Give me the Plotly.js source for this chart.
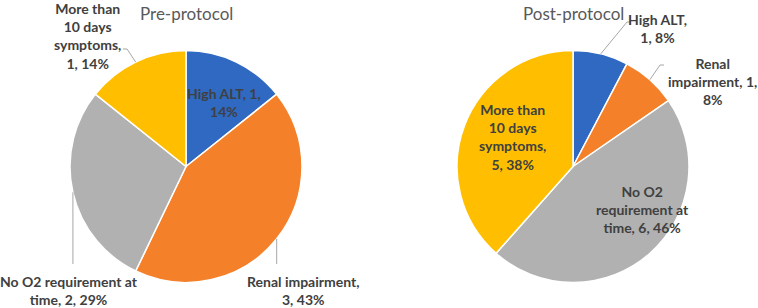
<!DOCTYPE html>
<html>
<head>
<meta charset="utf-8">
<script src="https://cdn.plot.ly/plotly-3.0.1.min.js"></script>
<style>html,body{margin:0;padding:0;background:#fff;}#chart{width:758px;height:308px;}</style>
</head>
<body>
<div id="chart"></div>
<script>
// ---- data ----
const categories = ["High ALT", "Renal impairment", "No O2 requirement at time", "More than 10 days symptoms"];
const preValues = [1, 3, 2, 1];
const postValues = [1, 1, 6, 5];
const chartTitles = ["Pre-protocol", "Post-protocol"];

// ---- style / layout ----
const W = 758, H = 308;
const colors = ["#2F69C1", "#F4812A", "#B1B1B1", "#FFBF00"];
const pieBoxes = [ {cx: 186, cy: 166.5, r: 116}, {cx: 573, cy: 166.5, r: 116} ];
const titlePos = [ [186, 13], [573, 13] ];
// per chart, per slice: label centre (px), wrap width (chars), leader path start points (px) or null
const labelStyle = [
  [
    {pos: [224, 103], wrap: 12, lead: null},
    {pos: [303, 290], wrap: 17, lead: "down", end: 264},
    {pos: [69, 290], wrap: 20, lead: "down", end: 264},
    {pos: [87, 36], wrap: 10, lead: [[123, 49], [127, 49]]}
  ],
  [
    {pos: [657, 28], wrap: 9, lead: [[631, 22], [627, 22]]},
    {pos: [712, 82], wrap: 14, lead: [[664, 65], [660, 65]]},
    {pos: [642, 209], wrap: 14, lead: null},
    {pos: [512, 137], wrap: 10, lead: null}
  ]
];

function wrap(text, n) {
  const words = text.split(" ");
  const lines = [];
  let cur = "";
  for (const w of words) {
    if (cur === "") cur = w;
    else if ((cur + " " + w).length <= n) cur += " " + w;
    else { lines.push(cur); cur = w; }
  }
  if (cur) lines.push(cur);
  return lines.join("<br>");
}

const px = x => x / W;
const py = y => 1 - y / H;

const allValues = [preValues, postValues];
const traces = [];
const annotations = [];
const shapes = [];

allValues.forEach((vals, k) => {
  const b = pieBoxes[k];
  traces.push({
    type: "pie",
    labels: categories,
    values: vals,
    sort: false,
    direction: "clockwise",
    rotation: 0,
    textinfo: "none",
    hoverinfo: "label+value+percent",
    marker: {colors: colors, line: {color: "#ffffff", width: 1.5}},
    domain: {x: [px(b.cx - b.r), px(b.cx + b.r)], y: [py(b.cy + b.r), py(b.cy - b.r)]},
    showlegend: false
  });
  annotations.push({
    text: chartTitles[k], xref: "paper", yref: "paper",
    x: px(titlePos[k][0]), y: py(titlePos[k][1]), xanchor: "center", yanchor: "middle",
    showarrow: false, font: {family: "Lato, 'Open Sans', sans-serif", size: 17, color: "#595959"}
  });
  const total = vals.reduce((a, c) => a + c, 0);
  let cum = 0;
  vals.forEach((v, i) => {
    const mid = (cum + v / 2) / total * 2 * Math.PI;
    cum += v;
    const tip = [b.cx + b.r * Math.sin(mid), b.cy - b.r * Math.cos(mid)];
    const st = labelStyle[k][i];
    const pct = Math.round(v / total * 100);
    const txt = wrap(categories[i] + ", " + v + ", " + pct + "%", st.wrap);
    annotations.push({
      text: "<b>" + txt + "</b>", xref: "paper", yref: "paper",
      x: px(st.pos[0]), y: py(st.pos[1]), xanchor: "center", yanchor: "middle", align: "center",
      showarrow: false, font: {family: "Lato, 'Open Sans', sans-serif", size: 14, color: "#404040"}
    });
    if (st.lead) {
      let pts;
      if (st.lead === "down") pts = [tip, [tip[0], st.end]];
      else pts = st.lead.concat([tip]);
      const path = pts.map((p, j) => (j ? "L" : "M") + px(p[0]).toFixed(5) + "," + py(p[1]).toFixed(5)).join(" ");
      shapes.push({type: "path", xref: "paper", yref: "paper", path: path,
        line: {color: "#A6A6A6", width: 1}});
    }
  });
});

Plotly.newPlot("chart", traces, {
  width: W, height: H,
  margin: {l: 0, r: 0, t: 0, b: 0},
  paper_bgcolor: "#ffffff",
  annotations: annotations,
  shapes: shapes,
  showlegend: false
}, {displayModeBar: false, staticPlot: true});
</script>
</body>
</html>
